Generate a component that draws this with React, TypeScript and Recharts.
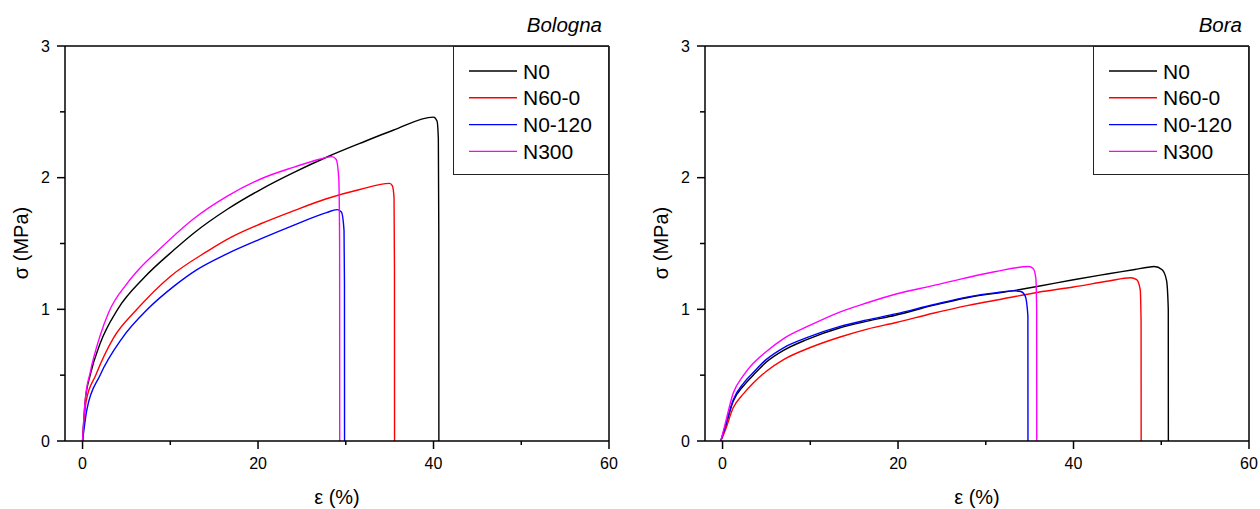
import React from "react";
import { LineChart, Line, XAxis, YAxis, ReferenceLine } from "recharts";

type Pt = { x: number; y: number };

// strain (%) / stress (MPa) curves
const bolognaN0: Pt[] = [
  { x: 0, y: 0 }, { x: 0.3, y: 0.3 }, { x: 0.87, y: 0.5 }, { x: 2, y: 0.74 }, { x: 4, y: 1.0 },
  { x: 7, y: 1.24 }, { x: 10.4, y: 1.45 }, { x: 12.7, y: 1.58 }, { x: 16.5, y: 1.76 },
  { x: 20.3, y: 1.91 }, { x: 24.1, y: 2.04 }, { x: 27.8, y: 2.155 }, { x: 31.6, y: 2.26 },
  { x: 35.4, y: 2.36 }, { x: 40, y: 2.46 }, { x: 40.4, y: 2.43 }, { x: 40.55, y: 2.3 },
  { x: 40.6, y: 1.6 }, { x: 40.61, y: 0 },
];
const bolognaN600: Pt[] = [
  { x: 0, y: 0 }, { x: 0.4, y: 0.3 }, { x: 1.5, y: 0.5 }, { x: 3.5, y: 0.78 }, { x: 6.2, y: 1.0 },
  { x: 10, y: 1.25 }, { x: 14.2, y: 1.44 }, { x: 17, y: 1.55 }, { x: 20.3, y: 1.65 },
  { x: 24.1, y: 1.75 }, { x: 27.8, y: 1.84 }, { x: 31.6, y: 1.91 }, { x: 35, y: 1.957 },
  { x: 35.3, y: 1.94 }, { x: 35.5, y: 1.85 }, { x: 35.55, y: 1.3 }, { x: 35.56, y: 0 },
];
const bolognaN0120: Pt[] = [
  { x: 0, y: 0 }, { x: 0.5, y: 0.24 }, { x: 2, y: 0.5 }, { x: 4.5, y: 0.78 }, { x: 7.4, y: 1.0 },
  { x: 10.5, y: 1.18 }, { x: 13, y: 1.3 }, { x: 16.4, y: 1.42 }, { x: 20.3, y: 1.535 },
  { x: 24.1, y: 1.64 }, { x: 27.8, y: 1.735 }, { x: 29, y: 1.757 }, { x: 29.5, y: 1.74 },
  { x: 29.8, y: 1.6 }, { x: 29.85, y: 1.2 }, { x: 29.86, y: 0 },
];
const bolognaN300: Pt[] = [
  { x: 0, y: 0 }, { x: 0.3, y: 0.31 }, { x: 0.87, y: 0.52 }, { x: 2, y: 0.8 }, { x: 3, y: 0.98 },
  { x: 5, y: 1.19 }, { x: 6.5, y: 1.31 }, { x: 8.5, y: 1.44 }, { x: 12.7, y: 1.69 },
  { x: 16.5, y: 1.86 }, { x: 20.3, y: 1.99 }, { x: 24.1, y: 2.08 }, { x: 27, y: 2.14 },
  { x: 28.4, y: 2.16 }, { x: 28.9, y: 2.14 }, { x: 29.2, y: 2.0 }, { x: 29.3, y: 1.5 },
  { x: 29.31, y: 0 },
];

const boraN0: Pt[] = [
  { x: -0.2, y: 0 }, { x: 0.3, y: 0.1 }, { x: 1.2, y: 0.3 }, { x: 2.4, y: 0.42 }, { x: 3.5, y: 0.5 },
  { x: 5, y: 0.6 }, { x: 7, y: 0.69 }, { x: 9.6, y: 0.77 }, { x: 13.4, y: 0.86 },
  { x: 16.5, y: 0.91 }, { x: 19.7, y: 0.955 }, { x: 24, y: 1.03 }, { x: 28, y: 1.09 },
  { x: 33, y: 1.14 }, { x: 36, y: 1.175 }, { x: 40, y: 1.225 }, { x: 44, y: 1.27 },
  { x: 47, y: 1.303 }, { x: 48.5, y: 1.32 }, { x: 49.2, y: 1.325 }, { x: 50.1, y: 1.3 },
  { x: 50.6, y: 1.22 }, { x: 50.8, y: 1.0 }, { x: 50.81, y: 0 },
];
const boraN600: Pt[] = [
  { x: -0.2, y: 0 }, { x: 0.3, y: 0.08 }, { x: 1.2, y: 0.25 }, { x: 2.4, y: 0.36 }, { x: 3.5, y: 0.44 },
  { x: 5, y: 0.53 }, { x: 7, y: 0.62 }, { x: 10, y: 0.71 }, { x: 13.4, y: 0.79 },
  { x: 16.5, y: 0.85 }, { x: 19.8, y: 0.9 }, { x: 24, y: 0.97 }, { x: 28, y: 1.03 },
  { x: 32, y: 1.08 }, { x: 36, y: 1.13 }, { x: 40, y: 1.17 }, { x: 44, y: 1.215 },
  { x: 46.5, y: 1.24 }, { x: 47.2, y: 1.225 }, { x: 47.6, y: 1.15 }, { x: 47.7, y: 0.9 },
  { x: 47.71, y: 0 },
];
const boraN0120: Pt[] = [
  { x: -0.2, y: 0 }, { x: 0.3, y: 0.11 }, { x: 1.2, y: 0.31 }, { x: 2.4, y: 0.44 }, { x: 3.5, y: 0.52 },
  { x: 5, y: 0.62 }, { x: 7, y: 0.71 }, { x: 9.6, y: 0.785 }, { x: 13.4, y: 0.87 },
  { x: 16.5, y: 0.92 }, { x: 19.7, y: 0.965 }, { x: 24, y: 1.035 }, { x: 28, y: 1.095 },
  { x: 31, y: 1.125 }, { x: 33.2, y: 1.14 }, { x: 34, y: 1.135 }, { x: 34.5, y: 1.1 },
  { x: 34.8, y: 0.95 }, { x: 34.81, y: 0 },
];
const boraN300: Pt[] = [
  { x: -0.2, y: 0 }, { x: 0.3, y: 0.13 }, { x: 1.2, y: 0.36 }, { x: 2.4, y: 0.5 }, { x: 3.5, y: 0.59 },
  { x: 5, y: 0.68 }, { x: 7, y: 0.78 }, { x: 10, y: 0.88 }, { x: 13, y: 0.97 },
  { x: 16.5, y: 1.05 }, { x: 20, y: 1.12 }, { x: 24, y: 1.18 }, { x: 27.5, y: 1.235 },
  { x: 31, y: 1.285 }, { x: 34.9, y: 1.325 }, { x: 35.4, y: 1.31 }, { x: 35.7, y: 1.24 },
  { x: 35.8, y: 1.0 }, { x: 35.81, y: 0 },
];

const seriesNames = ["N0", "N60-0", "N0-120", "N300"];
const seriesColors = ["#000000", "#ff0000", "#0000ff", "#ff00ff"];
const xTicks = [0, 10, 20, 30, 40, 50, 60];
const yTicks = [0, 0.5, 1, 1.5, 2, 2.5, 3];

const panels = [
  { title: "Bologna", curves: [bolognaN0, bolognaN600, bolognaN0120, bolognaN300] },
  { title: "Bora", curves: [boraN0, boraN600, boraN0120, boraN300] },
];

const FONT = "'Liberation Sans', Arial, sans-serif";

const XTick = (props: any) => {
  const { x, y, payload } = props;
  const major = payload.value % 20 === 0;
  return (
    <g>
      <line x1={x} x2={x} y1={y} y2={y + (major ? 8 : 4)} stroke="#000" strokeWidth={1.5} />
      {major && (
        <text x={x} y={y + 28} textAnchor="middle" fontSize={16} fontFamily={FONT} fill="#000">
          {payload.value}
        </text>
      )}
    </g>
  );
};

const YTick = (props: any) => {
  const { x, y, payload } = props;
  const major = Number.isInteger(payload.value);
  return (
    <g>
      <line x1={x - (major ? 8 : 5)} x2={x} y1={y} y2={y} stroke="#000" strokeWidth={1.5} />
      {major && (
        <text x={x - 15} y={y + 5.5} textAnchor="end" fontSize={16} fontFamily={FONT} fill="#000">
          {payload.value}
        </text>
      )}
    </g>
  );
};

const Panel = ({ left, title, curves }: { left: number; title: string; curves: Pt[][] }) => (
  <div style={{ position: "absolute", left, top: 0, width: 630, height: 509 }}>
    <LineChart width={630} height={509} margin={{ top: 46, right: 21, bottom: 28, left: 0 }}>
      <XAxis
        xAxisId="b"
        type="number"
        dataKey="x"
        domain={[-2, 60]}
        allowDataOverflow
        ticks={xTicks}
        interval={0}
        height={40}
        tickSize={0}
        tickMargin={0}
        tickLine={false}
        tick={<XTick />}
        axisLine={{ stroke: "#000", strokeWidth: 1.5 }}
      />
      <YAxis
        yAxisId="l"
        type="number"
        domain={[0, 3]}
        allowDataOverflow
        ticks={yTicks}
        interval={0}
        width={65}
        tickSize={0}
        tickMargin={0}
        tickLine={false}
        tick={<YTick />}
        axisLine={{ stroke: "#000", strokeWidth: 1.5 }}
      />
      {/* frame: top and right edges */}
      <ReferenceLine xAxisId="b" yAxisId="l" y={3} stroke="#000" strokeWidth={1.5} ifOverflow="visible" />
      <ReferenceLine xAxisId="b" yAxisId="l" x={60} stroke="#000" strokeWidth={1.5} ifOverflow="visible" />
      {curves.map((c, i) => (
        <Line
          key={seriesNames[i]}
          xAxisId="b"
          yAxisId="l"
          data={c}
          dataKey="y"
          type="monotone"
          stroke={seriesColors[i]}
          strokeWidth={1.4}
          dot={false}
          isAnimationActive={false}
        />
      ))}
    </LineChart>
    <svg
      width={630}
      height={509}
      style={{ position: "absolute", left: 0, top: 0, pointerEvents: "none" }}
      fontFamily={FONT}
    >
      <text x={602} y={31.5} textAnchor="end" fontSize={20.5} fontStyle="italic" fill="#000">
        {title}
      </text>
      <text x={21} y={243} textAnchor="middle" fontSize={20} fill="#000" transform="rotate(-90 21 243)" dominantBaseline="central">
        σ (MPa)
      </text>
      <text x={337} y={504} textAnchor="middle" fontSize={20} fill="#000">
        ε (%)
      </text>
      <rect x={453.5} y={46.5} width={155} height={128} fill="#fff" stroke="#222" strokeWidth={1} />
      {seriesNames.map((n, i) => (
        <g key={n}>
          <line x1={469} x2={517} y1={71 + i * 26.8} y2={71 + i * 26.8} stroke={seriesColors[i]} strokeWidth={1.4} />
          <text x={523} y={71 + i * 26.8 + 7.6} fontSize={21} fill="#000">
            {n}
          </text>
        </g>
      ))}
    </svg>
  </div>
);

export default function App() {
  return (
    <div style={{ position: "absolute", left: 0, top: 0, width: 1260, height: 509, background: "#fff" }}>
      {panels.map((p, i) => (
        <Panel key={p.title} left={i * 640} title={p.title} curves={p.curves} />
      ))}
    </div>
  );
}
